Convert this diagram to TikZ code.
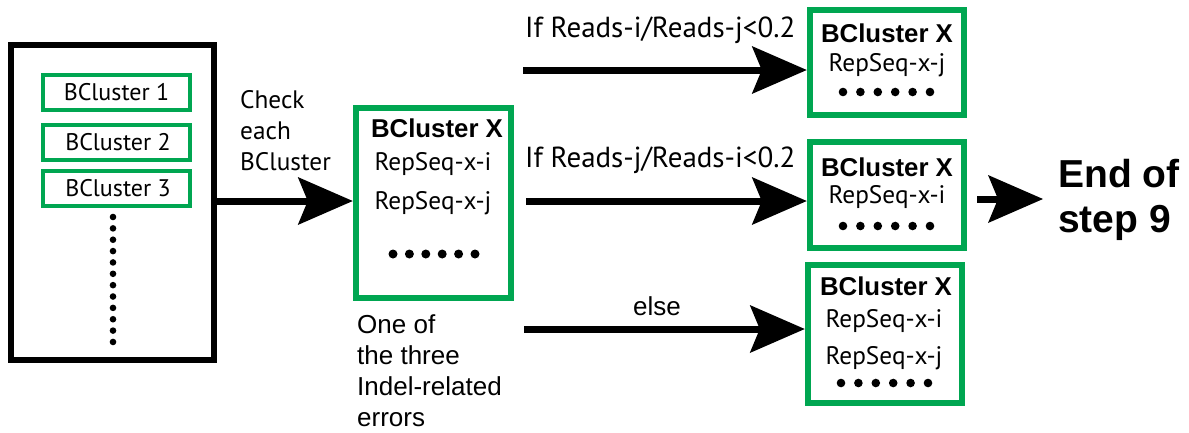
\documentclass[tikz,border=0pt]{standalone}
\usepackage{fontspec}
\setmainfont{Liberation Sans}
\newfontfamily\humsans{PT Sans}
\usetikzlibrary{arrows.meta}
\definecolor{bgreen}{RGB}{0,166,81}

\tikzset{
  outerbox/.style={draw=black, line width=6.5pt, fill=white, inner sep=0pt,
    minimum width=203pt, minimum height=315pt},
  smallbox/.style={draw=bgreen, line width=4pt, inner sep=0pt,
    minimum width=147pt, minimum height=35pt, font=\humsans\fontsize{24}{28}\selectfont},
  clusterbox/.style={draw=bgreen, line width=6.5pt, inner sep=0pt},
  boxtitle/.style={inner sep=0pt, font=\bfseries\fontsize{25.8}{30}\selectfont},
  seqtext/.style={inner sep=0pt, font=\humsans\fontsize{25.3}{30}\selectfont},
  condtext/.style={inner sep=0pt, anchor=base west, font=\humsans\fontsize{29}{34}\selectfont},
  bigarrow/.style={line width=7pt,
    -{Stealth[length=55pt, width=48pt, inset=10pt, line width=0pt]}},
  dotmark/.style={fill=black, draw=none}
}

\begin{document}
\begin{tikzpicture}[x=1pt, y=-1pt]
\useasboundingbox (0,0) rectangle (1189,432);

% input list of clusters
\node[outerbox] (all) at (112.5,202.5) {};
\node[smallbox] (c1) at (116.5,92.5) {BCluster 1};
\node[smallbox] (c2) at (116.5,142) {\hspace*{3pt}BCluster 2};
\node[smallbox] (c3) at (116.5,188.5) {\hspace*{3pt}BCluster 3};
\foreach \i in {0,...,11}
  \fill[dotmark] (113,217+11.36*\i) circle (3.3pt);

% the anchor of a multi-line node is the baseline of its last line
\node[inner sep=0pt, anchor=base west, align=left,
      font=\humsans\fontsize{25.3}{31}\selectfont] (check) at (240,170)
  {Check\\each\\BCluster};

% cluster under inspection
\node[clusterbox, minimum width=155pt, minimum height=190pt] (mid) at (433.5,203) {};
\node[boxtitle] (midt) at (437,128) {BCluster X};
\node[seqtext] (midi) at (433,164) {RepSeq-x-i};
\node[seqtext] (midj) at (433,203) {RepSeq-x-j};
\foreach \i in {0,...,5}
  \fill[dotmark] (393+16.4*\i,254) circle (4.5pt);

\node[inner sep=0pt, anchor=base west, align=left,
      font=\fontsize{26}{31}\selectfont] (indel) at (357,426)
  {One of\\the three\\Indel-related\\errors};

% resulting clusters
\node[clusterbox, minimum width=154pt, minimum height=105pt] (top) at (887,62.5) {};
\node[boxtitle] (topt) at (887,33) {BCluster X};
\node[seqtext] (topj) at (887,65) {RepSeq-x-j};
\foreach \i in {0,...,5}
  \fill[dotmark] (843+17.4*\i,92) circle (4.3pt);

\node[clusterbox, minimum width=154pt, minimum height=106pt] (mr) at (887,195) {};
\node[boxtitle] (mrt) at (887,167) {BCluster X};
\node[seqtext] (mri) at (887,197) {RepSeq-x-i};
\foreach \i in {0,...,5}
  \fill[dotmark] (843+17.4*\i,226) circle (4.3pt);

\node[clusterbox, minimum width=154pt, minimum height=138pt] (bot) at (885,334) {};
\node[boxtitle] (bott) at (886,286) {BCluster X};
\node[seqtext] (boti) at (884,321) {RepSeq-x-i};
\node[seqtext] (botj) at (884,358) {RepSeq-x-j};
\foreach \i in {0,...,5}
  \fill[dotmark] (841+17.4*\i,383) circle (4.3pt);

% end label
\node[inner sep=0pt, anchor=base west, align=left,
      font=\bfseries\fontsize{39}{45}\selectfont] (endt) at (1058,232)
  {End of\\step 9};

% condition labels
\node[condtext] (cond1) at (525,37) {If Reads-i/Reads-j<0.2};
\node[condtext] (cond2) at (525,167) {If Reads-j/Reads-i<0.2};
\node[inner sep=0pt, font=\fontsize{26}{30}\selectfont] (elsel) at (657,306) {else};

% connectors
\coordinate (s0) at (0,201);
\coordinate (s1) at (523,70);
\coordinate (s2) at (526,201);
\coordinate (s3) at (524,329);
\coordinate (e1) at (0,199);
\draw[bigarrow] (all.east |- s0) -- (mid.west |- s0);
\draw[bigarrow] (s1) -- (top.west |- s1);
\draw[bigarrow] (s2) -- (mr.west |- s2);
\draw[bigarrow] (s3) -- (bot.west |- s3);
\draw[bigarrow, shorten <=10pt, shorten >=15pt] (mr.east |- e1) -- (endt.west |- e1);
\end{tikzpicture}
\end{document}
